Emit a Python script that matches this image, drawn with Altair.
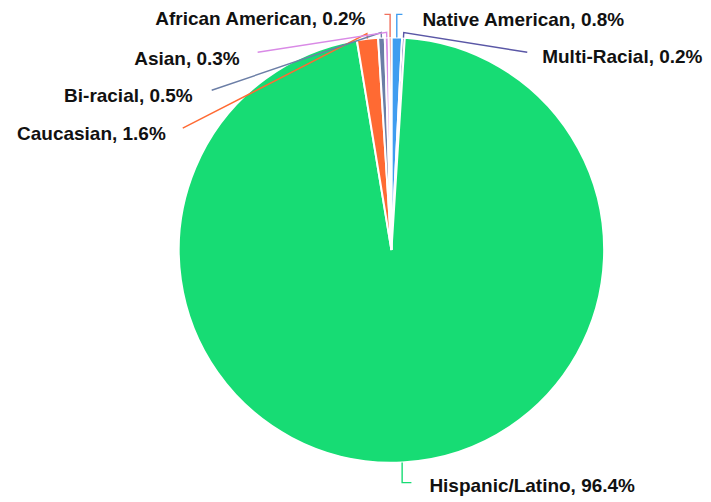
import math
import altair as alt
import pandas as pd

# ---- data (clockwise from 12 o'clock) ----
groups = ["Native American", "Multi-Racial", "Hispanic/Latino", "Caucasian",
          "Bi-racial", "Asian", "African American"]
shares = [0.8, 0.2, 96.4, 1.6, 0.5, 0.3, 0.2]
colors = ["#3f9df0", "#5a57a6", "#17dc74", "#ff6a33", "#6b7ea6", "#d98ae6", "#f0705c"]

# ---- layout (chart pixel coordinates) ----
W, H = 695, 486
CX, CY, R = 384, 242, 213
# label text anchor (x, y baseline, align)
label_pos = {
    "Native American": (415, 18, "left"),
    "Multi-Racial": (535, 55, "left"),
    "Hispanic/Latino": (422, 484, "left"),
    "Caucasian": (158, 132, "right"),
    "Bi-racial": (185, 93.5, "right"),
    "Asian": (232, 57, "right"),
    "African American": (358, 17, "right"),
}
# leader end point and style ("v" = vertical then horizontal, "d" = elbow then diagonal)
leader_end = {
    "Native American": (395, 6, "v"),
    "Multi-Racial": (520, 44, "d"),
    "Hispanic/Latino": (404, 475, "v"),
    "Caucasian": (175, 120, "d"),
    "Bi-racial": (204, 82, "d"),
    "Asian": (250, 44, "d"),
    "African American": (377, 6, "v"),
}

pie_df = pd.DataFrame({"group": groups, "value": shares, "order": range(len(groups))})

rows = []
labels = []
total = sum(shares)
cum = 0.0
for g, v in zip(groups, shares):
    mid = (cum + v / 2) / total * 2 * math.pi
    cum += v
    x0 = CX + R * math.sin(mid)
    y0 = CY - R * math.cos(mid)
    ex, ey, mode = leader_end[g]
    if mode == "v":
        x1, y1 = x0, ey
    else:
        x1 = CX + (R + 5) * math.sin(mid)
        y1 = CY - (R + 5) * math.cos(mid)
    for i, (px, py) in enumerate([(x0, y0), (x1, y1), (ex, ey)]):
        rows.append({"group": g, "seq": i, "x": px, "y": py})
    lx, ly, al = label_pos[g]
    labels.append({"group": g, "text": f"{g}, {v}%", "x": lx, "y": ly, "align": al})

line_df = pd.DataFrame(rows)
lab_df = pd.DataFrame(labels)

color_scale = alt.Scale(domain=groups, range=colors)
xs = alt.Scale(domain=[0, W], range=[0, W], nice=False, zero=False)
ys = alt.Scale(domain=[0, H], range=[0, H], nice=False, zero=False)

pie = alt.Chart(pie_df).mark_arc(radius=R, stroke="white", strokeWidth=2).encode(
    theta=alt.Theta("value:Q", stack=True),
    order=alt.Order("order:Q"),
    color=alt.Color("group:N", scale=color_scale, legend=None),
    x=alt.value(CX),
    y=alt.value(CY),
)

leaders = alt.Chart(line_df).mark_line(strokeWidth=1.4).encode(
    x=alt.X("x:Q", scale=xs, axis=None),
    y=alt.Y("y:Q", scale=ys, axis=None),
    detail="group:N",
    order="seq:Q",
    color=alt.Color("group:N", scale=color_scale, legend=None),
)

text_layers = []
for al in ["left", "right"]:
    text_layers.append(
        alt.Chart(lab_df[lab_df["align"] == al]).mark_text(
            align=al, baseline="alphabetic", font="Liberation Sans",
            fontSize=19, fontWeight="bold", color="#111111"
        ).encode(
            x=alt.X("x:Q", scale=xs, axis=None),
            y=alt.Y("y:Q", scale=ys, axis=None),
            text="text:N",
        )
    )

chart = alt.layer(pie, leaders, *text_layers).properties(
    width=W, height=H, padding=0
).configure_view(stroke=None)

chart.save("out.html", embed_options={"renderer": "svg", "actions": False})
